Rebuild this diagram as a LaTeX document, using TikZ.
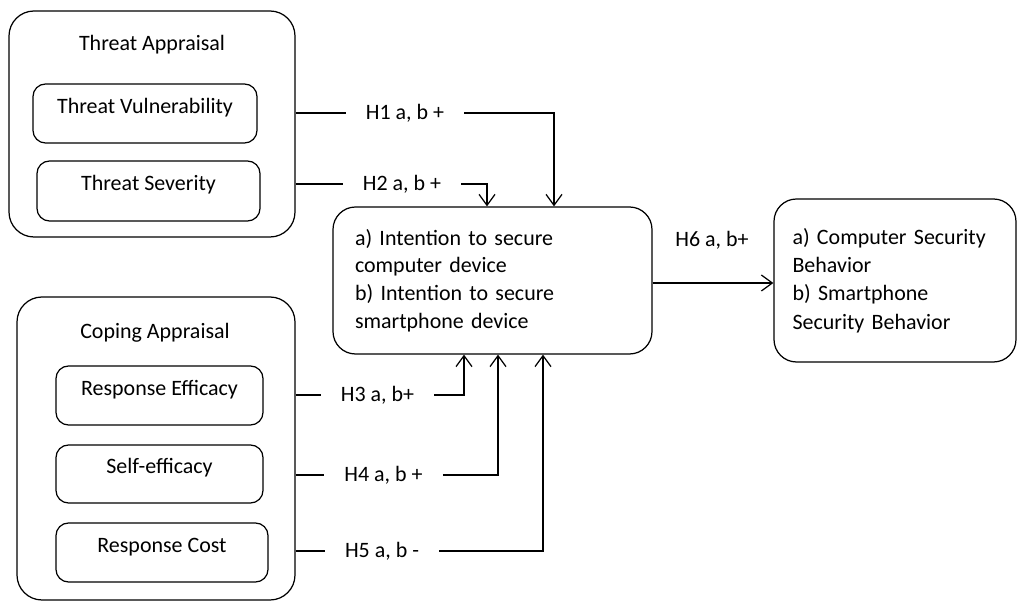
\documentclass[tikz,border=0pt]{standalone}
\usepackage{fontspec}
\setmainfont{Carlito}
\usetikzlibrary{arrows.meta, positioning}

\begin{document}
\begin{tikzpicture}[
    groupbox/.style={
        draw,
        line width=0.7pt,
        rounded corners=0.5cm
    },
    itembox/.style={
        draw,
        line width=0.7pt,
        rounded corners=0.25cm,
        minimum height=1.18cm,
        text height=6pt,
        text depth=6pt
    },
    mainbox/.style={
        draw,
        line width=0.7pt,
        rounded corners=0.45cm,
        align=left,
        font=\fontsize{12.5}{15.7}\selectfont
    },
    hyp/.style={
        inner xsep=0.4cm,
        inner ysep=0pt
    },
    link/.style={
        -,
        line width=0.7pt
    },
    hyparrow/.style={
        -{Straight Barb[length=2.2mm, width=3.2mm]},
        line width=0.7pt
    },
    font=\fontsize{12.5}{15.7}\selectfont
]
\useasboundingbox (0, 0) rectangle (20.34, 12.04);

% ==================== THREAT APPRAISAL ====================
\node[groupbox, minimum width=5.72cm, minimum height=4.52cm] (threat) at (3.04, 9.56) {};
\node (threattitle) at (3.04, 11.14) {Threat Appraisal};
\node[itembox, minimum width=4.48cm] (vuln) at (2.90, 9.77) {Threat Vulnerability};
\node[itembox, minimum width=4.46cm, minimum height=1.20cm] (severity) at (2.97, 8.22) {Threat Severity};

% ==================== COPING APPRAISAL ====================
\node[groupbox, minimum width=5.56cm, minimum height=6.06cm] (coping) at (3.12, 3.07) {};
\node (copingtitle) at (3.10, 5.38) {Coping Appraisal};
\node[itembox, minimum width=4.14cm] (respeff) at (3.19, 4.13) {Response Efficacy};
\node[itembox, minimum width=4.14cm, minimum height=1.16cm] (selfeff) at (3.19, 2.56) {Self-efficacy};
\node[itembox, minimum width=4.24cm] (respcost) at (3.24, 0.99) {Response Cost};

% ==================== INTENTION & BEHAVIOR ====================
\node[mainbox, minimum width=6.38cm, minimum height=2.94cm, text width=5.5cm] (intent) at (9.85, 6.43)
    {a) Intention to secure\\computer device\\b) Intention to secure\\smartphone device};
\node[mainbox, minimum width=4.84cm, minimum height=3.26cm, text width=4.1cm,
      font=\fontsize{12.5}{16.2}\selectfont] (behavior) at (17.90, 6.43)
    {a) Computer Security\\Behavior\\b) Smartphone\\Security Behavior};

% ==================== HYPOTHESES ====================
\node[hyp] (h1) at (8.10, 9.78) {H1 a, b +};
\node[hyp] (h2) at (8.04, 8.36) {H2 a, b +};
\node[hyp] (h3) at (7.55, 4.14) {H3 a, b+};
\node[hyp] (h4) at (7.67, 2.54) {H4 a, b +};
\node[hyp] (h5) at (7.64, 1.02) {H5 a, b -};
\node (h6) at (14.24, 7.24) {H6 a, b+};

% ==================== PATHS ====================
\draw[link] (threat.east |- h1) -- (h1.west);
\draw[hyparrow] (h1.east) -| ([xshift=1.23cm]intent.north);
\draw[link] (threat.east |- h2) -- (h2.west);
\draw[hyparrow] (h2.east) -| ([xshift=-0.11cm]intent.north);

\draw[link] (coping.east |- h3) -- (h3.west);
\draw[hyparrow] (h3.east) -| ([xshift=-0.57cm]intent.south);
\draw[link] (coping.east |- h4) -- (h4.west);
\draw[hyparrow] (h4.east) -| ([xshift=0.11cm]intent.south);
\draw[link] (coping.east |- h5) -- (h5.west);
\draw[hyparrow] (h5.east) -| ([xshift=1.01cm]intent.south);

\draw[hyparrow] ([yshift=-0.05cm]intent.east) -- ([yshift=-0.05cm]behavior.west);

\end{tikzpicture}
\end{document}
